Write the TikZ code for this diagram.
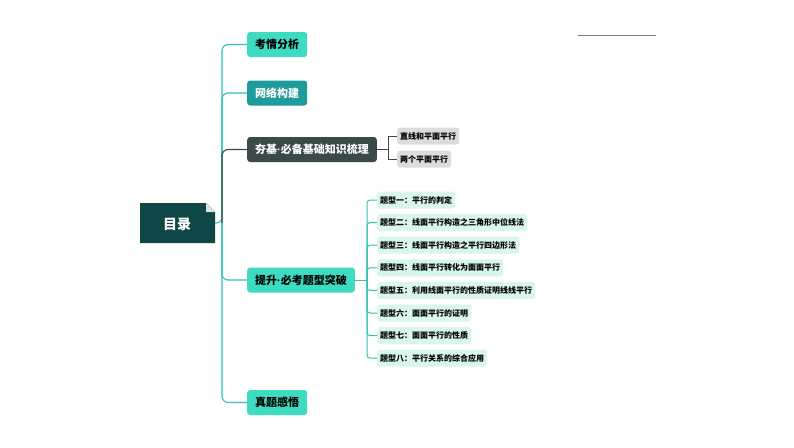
\documentclass[tikz,border=0pt]{standalone}
\usepackage{fontspec}
\setmainfont{Noto Sans CJK SC}
\newfontfamily\latinfont{Liberation Sans}
\usetikzlibrary{positioning}
\definecolor{mint}{HTML}{3EDBC0}
\definecolor{deepteal}{HTML}{1E9B9B}
\definecolor{slate}{HTML}{3A4A48}
\definecolor{rootc}{HTML}{0F4646}
\definecolor{pale}{HTML}{D8F5EE}
\definecolor{lgray}{HTML}{DCDCDC}
\definecolor{linec}{HTML}{2EC4B0}
\newcommand{\mdot}{{\latinfont\textperiodcentered}}
\begin{document}
\begin{tikzpicture}[x=1pt,y=-1pt,
  topic/.style={rounded corners=3pt,minimum height=25pt,font=\bfseries\fontsize{11}{13}\selectfont,anchor=west,inner xsep=8pt},
  leaf/.style={rounded corners=3pt,minimum height=17pt,font=\bfseries\fontsize{8}{10}\selectfont,anchor=west,inner xsep=3pt},
  link/.style={line width=1.1pt,rounded corners=6pt}]
\useasboundingbox (0,0) rectangle (794,447);
\fill[white] (0,0) rectangle (794,447);
\draw[gray,line width=0.8pt] (578,35) -- (656,35);
% root
\fill[rootc] (140,203) -- (206,203) -- (215,212) -- (215,243) -- (140,243) -- cycle;
\fill[white!85!rootc] (206,203) -- (206,212) -- (215,212) -- cycle;
\node[text=white,font=\bfseries\fontsize{14}{16}\selectfont] (root) at (177,224) {目录};
% branches
\node[topic,fill=mint] (b1) at (247,44.5) {考情分析};
\node[topic,fill=deepteal,text=white] (b2) at (247,93) {网络构建};
\node[topic,fill=slate,text=white] (b3) at (247,149.5) {夯基\mdot 必备基础知识梳理};
\node[topic,fill=mint] (b4) at (247,280) {提升\mdot 必考题型突破};
\node[topic,fill=mint] (b5) at (247,402.5) {真题感悟};
\coordinate (hub) at (222,223);
\draw[link,linec] (215,223) -- (hub) |- (b1.west);
\draw[link,linec] (hub) |- (b2.west);
\draw[link,slate] (hub) |- (b3.west);
\draw[link,linec] (hub) |- (b4.west);
\draw[link,linec] (hub) |- (b5.west);
% basics leaves
\node[leaf,fill=lgray] (g1) at (397,136) {直线和平面平行};
\node[leaf,fill=lgray] (g2) at (397,159) {两个平面平行};
\draw[slate,line width=1pt] (b3.east) -- (388,149.5) |- (g1.west);
\draw[slate,line width=1pt] (388,149.5) |- (g2.west);
% question types
\coordinate (fork) at (367,280);
\draw[linec,line width=1pt] (b4.east) -- (fork);
\foreach \t [count=\i] in {题型一：平行的判定,题型二：线面平行构造之三角形中位线法,题型三：线面平行构造之平行四边形法,题型四：线面平行转化为面面平行,题型五：利用线面平行的性质证明线线平行,题型六：面面平行的证明,题型七：面面平行的性质,题型八：平行关系的综合应用}
{
  \node[leaf,fill=pale] (q\i) at (377,{200+(\i-1)*22.6}) {\t};
  \draw[linec,line width=1pt,rounded corners=3pt] (fork) |- (q\i.west);
}
\end{tikzpicture}
\end{document}
